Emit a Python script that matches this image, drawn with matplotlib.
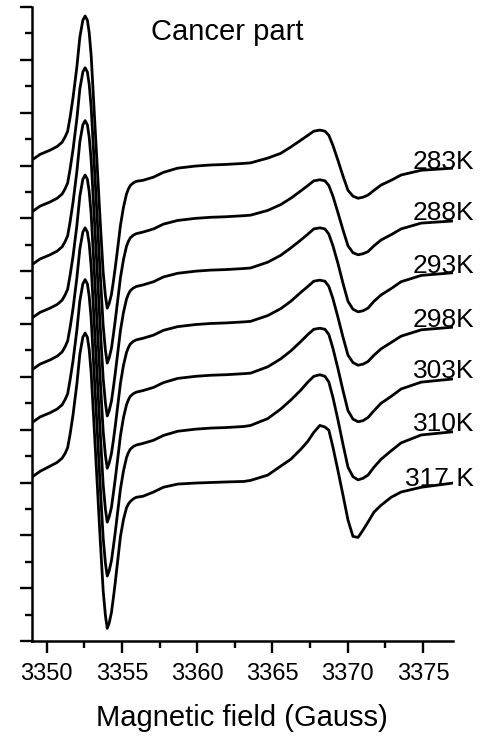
import matplotlib
matplotlib.use('Agg')
import matplotlib.pyplot as plt
from matplotlib.ticker import MultipleLocator, NullFormatter

plt.rcParams['font.family'] = ['Liberation Sans', 'DejaVu Sans']

# magnetic field points (Gauss), shared by every spectrum
field = [3349.0, 3349.55, 3350.22, 3350.69, 3351.02, 3351.22, 3351.39, 3351.55, 3351.75, 3352.0,
         3352.2, 3352.4, 3352.55, 3352.7, 3352.82, 3352.95, 3353.15, 3353.35, 3353.55, 3353.75,
         3353.9, 3354.02, 3354.15, 3354.3, 3354.42, 3354.55, 3354.7, 3354.9, 3355.1, 3355.3,
         3355.42, 3355.55, 3355.75, 3355.95, 3356.4, 3357.1, 3357.75, 3358.7, 3359.9, 3360.9,
         3361.9, 3363.1,
         3363.55, 3364.69, 3365.55, 3366.22, 3366.89, 3367.35, 3367.75, 3368.15, 3368.49, 3368.75,
         3369.02, 3369.35, 3369.69, 3370.02, 3370.35, 3370.69, 3371.02, 3371.35, 3371.75, 3372.22,
         3372.89, 3373.55, 3374.89, 3377.0]

temps = ['283K', '288K', '293K', '298K', '303K', '310K', '317 K']
offsets = [9.10, 8.12, 7.12, 6.11, 5.13, 4.13, 3.10]

# EPR signal (a.u.) relative to the left baseline
epr_283 = [0.00, 0.11, 0.19, 0.26, 0.34, 0.44, 0.55, 0.81, 1.19, 1.76,
           2.33, 2.65, 2.73, 2.65, 2.42, 1.99, 0.95, -0.09, -1.14, -2.12,
           -2.57, -2.80, -2.71, -2.54, -2.31, -2.04, -1.70, -1.23, -0.89, -0.64,
           -0.55, -0.48, -0.43, -0.40, -0.38, -0.32, -0.23, -0.15, -0.11, -0.09,
           -0.08, -0.06,
           -0.05, 0.04, 0.13, 0.25, 0.38, 0.47, 0.55, 0.57, 0.55, 0.47,
           0.28, 0.00, -0.30, -0.57, -0.68, -0.72, -0.70, -0.66, -0.57, -0.47,
           -0.38, -0.28, -0.19, -0.15]
epr_288 = [0.00, 0.11, 0.19, 0.26, 0.34, 0.44, 0.55, 0.81, 1.19, 1.76,
           2.33, 2.65, 2.73, 2.65, 2.42, 1.99, 0.95, -0.10, -1.16, -2.15,
           -2.62, -2.86, -2.76, -2.58, -2.34, -2.06, -1.71, -1.24, -0.90, -0.65,
           -0.56, -0.49, -0.44, -0.41, -0.38, -0.32, -0.23, -0.16, -0.12, -0.10,
           -0.09, -0.07,
           -0.06, 0.03, 0.14, 0.26, 0.40, 0.50, 0.59, 0.61, 0.59, 0.50,
           0.30, -0.01, -0.34, -0.64, -0.77, -0.81, -0.79, -0.75, -0.64, -0.53,
           -0.43, -0.32, -0.21, -0.17]
epr_293 = [0.00, 0.11, 0.19, 0.26, 0.34, 0.44, 0.55, 0.81, 1.19, 1.76,
           2.33, 2.65, 2.73, 2.65, 2.42, 1.99, 0.95, -0.10, -1.16, -2.15,
           -2.62, -2.86, -2.76, -2.58, -2.34, -2.06, -1.71, -1.24, -0.90, -0.65,
           -0.56, -0.49, -0.44, -0.41, -0.38, -0.32, -0.23, -0.16, -0.12, -0.10,
           -0.09, -0.07,
           -0.06, 0.05, 0.18, 0.32, 0.47, 0.58, 0.68, 0.70, 0.68, 0.58,
           0.36, 0.03, -0.35, -0.69, -0.84, -0.89, -0.87, -0.82, -0.69, -0.57,
           -0.45, -0.32, -0.20, -0.15]
epr_298 = [0.00, 0.11, 0.19, 0.26, 0.34, 0.44, 0.55, 0.81, 1.18, 1.75,
           2.31, 2.63, 2.71, 2.63, 2.40, 1.98, 0.94, -0.10, -1.15, -2.14,
           -2.60, -2.84, -2.74, -2.56, -2.33, -2.05, -1.70, -1.23, -0.89, -0.65,
           -0.56, -0.49, -0.44, -0.41, -0.38, -0.32, -0.23, -0.16, -0.12, -0.10,
           -0.09, -0.07,
           -0.06, 0.05, 0.18, 0.32, 0.49, 0.60, 0.70, 0.72, 0.70, 0.60,
           0.37, 0.02, -0.36, -0.70, -0.84, -0.89, -0.87, -0.82, -0.70, -0.58,
           -0.46, -0.34, -0.22, -0.17]
epr_303 = [0.00, 0.11, 0.19, 0.26, 0.34, 0.44, 0.55, 0.80, 1.17, 1.74,
           2.29, 2.61, 2.69, 2.61, 2.39, 1.97, 0.93, -0.11, -1.17, -2.17,
           -2.64, -2.88, -2.78, -2.60, -2.35, -2.07, -1.72, -1.24, -0.90, -0.66,
           -0.57, -0.50, -0.45, -0.42, -0.39, -0.33, -0.24, -0.16, -0.12, -0.10,
           -0.09, -0.07,
           -0.06, 0.06, 0.21, 0.36, 0.54, 0.67, 0.77, 0.79, 0.77, 0.67,
           0.41, 0.03, -0.39, -0.77, -0.93, -0.98, -0.96, -0.90, -0.77, -0.63,
           -0.50, -0.36, -0.23, -0.17]
epr_310 = [0.00, 0.11, 0.19, 0.26, 0.34, 0.44, 0.55, 0.81, 1.18, 1.75,
           2.31, 2.63, 2.71, 2.63, 2.40, 1.98, 0.94, -0.11, -1.18, -2.18,
           -2.66, -2.90, -2.80, -2.61, -2.36, -2.08, -1.72, -1.25, -0.91, -0.66,
           -0.57, -0.50, -0.45, -0.42, -0.39, -0.33, -0.24, -0.16, -0.12, -0.10,
           -0.09, -0.07,
           -0.05, 0.08, 0.26, 0.43, 0.62, 0.77, 0.88, 0.91, 0.88, 0.77,
           0.48, 0.06, -0.41, -0.84, -1.02, -1.08, -1.05, -0.99, -0.84, -0.69,
           -0.53, -0.38, -0.23, -0.17]
epr_317 = [0.00, 0.11, 0.21, 0.28, 0.36, 0.45, 0.56, 0.81, 1.19, 1.76,
           2.33, 2.65, 2.73, 2.65, 2.42, 1.99, 0.95, -0.10, -1.16, -2.15,
           -2.62, -2.86, -2.76, -2.56, -2.30, -2.00, -1.62, -1.12, -0.80, -0.58,
           -0.51, -0.46, -0.41, -0.38, -0.36, -0.28, -0.19, -0.13, -0.11, -0.10,
           -0.09, -0.08,
           -0.06, 0.04, 0.21, 0.34, 0.53, 0.68, 0.85, 0.98, 0.95, 0.89,
           0.57, 0.13, -0.34, -0.81, -1.12, -1.14, -1.00, -0.85, -0.66, -0.53,
           -0.38, -0.28, -0.19, -0.11]

spectra = [epr_283, epr_288, epr_293, epr_298, epr_303, epr_310, epr_317]

fig = plt.figure(figsize=(4.82, 7.38), dpi=100)
ax = fig.add_axes([31.7 / 482, 97 / 738, (453 - 31.7) / 482, (641 - 7) / 738])

for sig, off, lab in zip(spectra, offsets, temps):
    ax.plot(field, [v + off for v in sig], color='black', lw=2.0,
            solid_joinstyle='round', solid_capstyle='round')
    ax.text(3378.4, off - 0.16, lab, ha='right', va='baseline', fontsize=19, clip_on=False)

ax.text(3362.0, 11.38, 'Cancer part', ha='center', va='baseline', fontsize=21)

ax.set_xlim(3349, 3377)
ax.set_ylim(0, 12)
ax.xaxis.set_major_locator(MultipleLocator(5))
ax.xaxis.set_minor_locator(MultipleLocator(2.5))
ax.yaxis.set_major_locator(MultipleLocator(1))
ax.yaxis.set_minor_locator(MultipleLocator(0.5))
ax.yaxis.set_major_formatter(NullFormatter())

ax.spines['top'].set_visible(False)
ax.spines['right'].set_visible(False)
ax.spines['left'].set_linewidth(1.8)
ax.spines['bottom'].set_linewidth(1.8)
ax.tick_params(which='both', direction='out', width=1.7, top=False, right=False)
ax.tick_params(which='major', length=8.6, labelsize=17, pad=7)
ax.tick_params(which='minor', length=4.7)

ax.set_xlabel('Magnetic field (Gauss)', fontsize=21, labelpad=14)

fig.savefig('out.png', dpi=100)
